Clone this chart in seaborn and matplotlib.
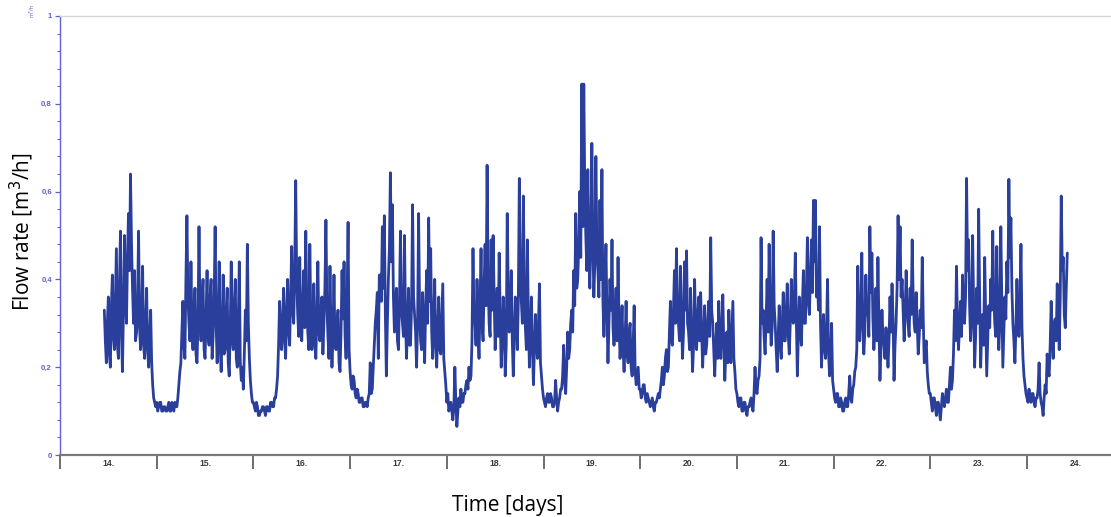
import numpy as np
import pandas as pd
import matplotlib
matplotlib.use("Agg")
import matplotlib.pyplot as plt
import seaborn as sns
from matplotlib.ticker import MultipleLocator, FixedLocator

# ---- data: flow rate [m3/h], 15-minute samples ----
# each list holds the samples of one day; day 14 starts at 11:00 (sample 44)
day14_first_sample = 44
day14 = [0.33, 0.26, 0.21, 0.30, 0.36, 0.23, 0.20, 0.34, 0.41, 0.27, 0.24, 0.35, 0.47, 0.25,
         0.22, 0.38, 0.51, 0.28, 0.19, 0.33, 0.50, 0.36, 0.30, 0.45, 0.55, 0.42, 0.64, 0.48,
         0.38, 0.30, 0.42, 0.26, 0.28, 0.34, 0.51, 0.29, 0.24, 0.31, 0.43, 0.25, 0.22, 0.30,
         0.38, 0.24, 0.20, 0.27, 0.33, 0.21, 0.16, 0.13, 0.12, 0.11]
day15 = [0.12, 0.10, 0.11, 0.12, 0.12, 0.10, 0.10, 0.11, 0.11, 0.10, 0.10, 0.11,
         0.12, 0.10, 0.10, 0.12, 0.11, 0.10, 0.12, 0.11, 0.11, 0.13, 0.16, 0.19,
         0.21, 0.28, 0.35, 0.25, 0.22, 0.40, 0.545, 0.36, 0.30, 0.26, 0.44, 0.29,
         0.24, 0.33, 0.38, 0.23, 0.21, 0.30, 0.52, 0.31, 0.26, 0.35, 0.40, 0.24,
         0.22, 0.31, 0.42, 0.27, 0.25, 0.36, 0.40, 0.22, 0.27, 0.35, 0.52, 0.30,
         0.21, 0.28, 0.44, 0.25, 0.19, 0.30, 0.41, 0.23, 0.24, 0.33, 0.38, 0.21,
         0.18, 0.29, 0.44, 0.26, 0.24, 0.34, 0.40, 0.22, 0.20, 0.31, 0.44, 0.21,
         0.17, 0.20, 0.15, 0.23, 0.33, 0.26, 0.48, 0.30, 0.22, 0.17, 0.14, 0.12]
day16 = [0.12, 0.11, 0.10, 0.12, 0.11, 0.09, 0.09, 0.10, 0.10, 0.11, 0.11, 0.10,
         0.09, 0.11, 0.11, 0.10, 0.10, 0.12, 0.12, 0.11, 0.11, 0.13, 0.13, 0.15,
         0.18, 0.25, 0.35, 0.27, 0.24, 0.31, 0.38, 0.26, 0.22, 0.33, 0.40, 0.28,
         0.25, 0.36, 0.475, 0.33, 0.30, 0.42, 0.625, 0.40, 0.32, 0.27, 0.45, 0.30,
         0.26, 0.34, 0.42, 0.29, 0.51, 0.35, 0.28, 0.24, 0.48, 0.31, 0.24, 0.29,
         0.39, 0.25, 0.22, 0.32, 0.44, 0.28, 0.26, 0.33, 0.36, 0.23, 0.30, 0.38,
         0.535, 0.34, 0.27, 0.22, 0.43, 0.29, 0.20, 0.27, 0.41, 0.25, 0.24, 0.30,
         0.33, 0.21, 0.19, 0.28, 0.42, 0.31, 0.44, 0.27, 0.22, 0.35, 0.53, 0.24]
day17 = [0.19, 0.16, 0.15, 0.18, 0.17, 0.14, 0.13, 0.15, 0.14, 0.12, 0.12, 0.13,
         0.13, 0.11, 0.11, 0.12, 0.12, 0.11, 0.13, 0.14, 0.21, 0.14, 0.15, 0.20,
         0.25, 0.30, 0.33, 0.37, 0.22, 0.41, 0.41, 0.35, 0.52, 0.38, 0.545, 0.32,
         0.18, 0.30, 0.40, 0.47, 0.643, 0.44, 0.57, 0.36, 0.28, 0.34, 0.38, 0.26,
         0.24, 0.35, 0.51, 0.33, 0.30, 0.27, 0.50, 0.31, 0.22, 0.29, 0.38, 0.25,
         0.25, 0.34, 0.57, 0.36, 0.32, 0.28, 0.20, 0.30, 0.55, 0.33, 0.26, 0.24,
         0.37, 0.29, 0.21, 0.33, 0.42, 0.30, 0.54, 0.35, 0.47, 0.28, 0.22, 0.31,
         0.40, 0.25, 0.20, 0.29, 0.36, 0.24, 0.23, 0.31, 0.39, 0.22, 0.19, 0.16]
day18 = [0.12, 0.14, 0.10, 0.11, 0.12, 0.10, 0.08, 0.11, 0.20, 0.12, 0.065, 0.10,
         0.13, 0.11, 0.15, 0.12, 0.12, 0.14, 0.14, 0.16, 0.17, 0.15, 0.20, 0.17,
         0.18, 0.26, 0.47, 0.32, 0.30, 0.25, 0.40, 0.28, 0.22, 0.34, 0.47, 0.30,
         0.26, 0.38, 0.48, 0.34, 0.66, 0.40, 0.30, 0.27, 0.49, 0.33, 0.50, 0.36,
         0.24, 0.30, 0.38, 0.27, 0.46, 0.32, 0.20, 0.26, 0.36, 0.30, 0.18, 0.25,
         0.55, 0.37, 0.28, 0.33, 0.42, 0.26, 0.18, 0.27, 0.36, 0.31, 0.24, 0.35,
         0.63, 0.41, 0.35, 0.30, 0.59, 0.38, 0.29, 0.24, 0.49, 0.31, 0.20, 0.27,
         0.36, 0.25, 0.16, 0.24, 0.32, 0.26, 0.22, 0.30, 0.39, 0.21, 0.18, 0.15]
day19 = [0.13, 0.12, 0.11, 0.13, 0.14, 0.12, 0.12, 0.14, 0.13, 0.11, 0.11, 0.12,
         0.17, 0.13, 0.10, 0.12, 0.13, 0.15, 0.15, 0.18, 0.25, 0.17, 0.14, 0.20,
         0.28, 0.22, 0.24, 0.30, 0.33, 0.28, 0.42, 0.34, 0.55, 0.38, 0.40, 0.48,
         0.60, 0.45, 0.845, 0.52, 0.845, 0.60, 0.50, 0.42, 0.65, 0.46, 0.38, 0.50,
         0.71, 0.48, 0.36, 0.44, 0.68, 0.47, 0.42, 0.36, 0.58, 0.40, 0.65, 0.35,
         0.27, 0.38, 0.48, 0.32, 0.21, 0.30, 0.40, 0.33, 0.49, 0.29, 0.25, 0.31,
         0.38, 0.26, 0.45, 0.30, 0.22, 0.27, 0.34, 0.24, 0.19, 0.26, 0.35, 0.23,
         0.21, 0.28, 0.30, 0.20, 0.18, 0.25, 0.34, 0.19, 0.16, 0.18, 0.20, 0.15]
day20 = [0.15, 0.13, 0.14, 0.16, 0.16, 0.13, 0.12, 0.14, 0.13, 0.12, 0.11, 0.12,
         0.13, 0.11, 0.10, 0.12, 0.12, 0.13, 0.14, 0.13, 0.15, 0.17, 0.20, 0.16,
         0.18, 0.22, 0.24, 0.19, 0.20, 0.28, 0.35, 0.26, 0.25, 0.33, 0.42, 0.30,
         0.47, 0.34, 0.30, 0.26, 0.43, 0.31, 0.22, 0.28, 0.44, 0.33, 0.465, 0.30,
         0.28, 0.24, 0.38, 0.27, 0.19, 0.25, 0.40, 0.29, 0.24, 0.31, 0.36, 0.26,
         0.37, 0.28, 0.20, 0.26, 0.34, 0.23, 0.25, 0.30, 0.35, 0.27, 0.495, 0.33,
         0.30, 0.24, 0.18, 0.25, 0.30, 0.22, 0.35, 0.27, 0.22, 0.29, 0.365, 0.25,
         0.17, 0.23, 0.28, 0.21, 0.33, 0.26, 0.21, 0.28, 0.35, 0.22, 0.19, 0.15]
day21 = [0.14, 0.12, 0.11, 0.13, 0.13, 0.10, 0.10, 0.12, 0.12, 0.10, 0.09, 0.11,
         0.11, 0.12, 0.13, 0.11, 0.10, 0.14, 0.20, 0.15, 0.14, 0.17, 0.18, 0.22,
         0.495, 0.30, 0.33, 0.27, 0.23, 0.31, 0.40, 0.28, 0.48, 0.33, 0.25, 0.29,
         0.51, 0.34, 0.30, 0.24, 0.19, 0.27, 0.34, 0.25, 0.22, 0.30, 0.37, 0.26,
         0.26, 0.33, 0.39, 0.27, 0.23, 0.30, 0.40, 0.32, 0.30, 0.36, 0.46, 0.31,
         0.18, 0.27, 0.36, 0.29, 0.25, 0.34, 0.42, 0.30, 0.30, 0.38, 0.495, 0.35,
         0.32, 0.41, 0.49, 0.37, 0.58, 0.44, 0.58, 0.36, 0.40, 0.33, 0.52, 0.30,
         0.20, 0.27, 0.32, 0.24, 0.22, 0.29, 0.40, 0.23, 0.18, 0.21, 0.30, 0.17]
day22 = [0.15, 0.13, 0.12, 0.14, 0.14, 0.11, 0.11, 0.13, 0.12, 0.10, 0.10, 0.12,
         0.13, 0.11, 0.11, 0.14, 0.18, 0.13, 0.12, 0.15, 0.16, 0.19, 0.20, 0.24,
         0.43, 0.29, 0.26, 0.33, 0.46, 0.30, 0.23, 0.28, 0.41, 0.32, 0.33, 0.27,
         0.52, 0.37, 0.46, 0.31, 0.24, 0.29, 0.38, 0.26, 0.45, 0.30, 0.17, 0.24,
         0.33, 0.27, 0.25, 0.22, 0.29, 0.25, 0.20, 0.26, 0.36, 0.28, 0.39, 0.31,
         0.17, 0.25, 0.30, 0.38, 0.545, 0.40, 0.52, 0.36, 0.40, 0.33, 0.26, 0.31,
         0.42, 0.35, 0.30, 0.27, 0.38, 0.32, 0.49, 0.36, 0.30, 0.28, 0.37, 0.30,
         0.23, 0.27, 0.33, 0.29, 0.45, 0.31, 0.21, 0.24, 0.26, 0.19, 0.16, 0.14]
day23 = [0.14, 0.12, 0.10, 0.13, 0.13, 0.11, 0.09, 0.12, 0.12, 0.10, 0.08, 0.11,
         0.14, 0.12, 0.11, 0.13, 0.15, 0.12, 0.12, 0.16, 0.20, 0.15, 0.17, 0.23,
         0.33, 0.26, 0.43, 0.30, 0.24, 0.29, 0.35, 0.27, 0.41, 0.33, 0.30, 0.36,
         0.63, 0.42, 0.49, 0.34, 0.26, 0.31, 0.50, 0.35, 0.20, 0.27, 0.38, 0.30,
         0.56, 0.36, 0.20, 0.28, 0.32, 0.25, 0.45, 0.31, 0.18, 0.26, 0.34, 0.29,
         0.40, 0.33, 0.51, 0.36, 0.30, 0.27, 0.475, 0.32, 0.24, 0.30, 0.52, 0.35,
         0.20, 0.28, 0.36, 0.31, 0.44, 0.37, 0.628, 0.45, 0.54, 0.38, 0.30, 0.26,
         0.21, 0.29, 0.40, 0.31, 0.27, 0.34, 0.48, 0.29, 0.22, 0.18, 0.16, 0.14]
day24 = [0.13, 0.12, 0.15, 0.13, 0.12, 0.14, 0.14, 0.12, 0.11, 0.13, 0.13, 0.15,
         0.21, 0.14, 0.12, 0.11, 0.09, 0.13, 0.16, 0.14, 0.23, 0.19, 0.18, 0.25,
         0.35, 0.27, 0.22, 0.30, 0.31, 0.26, 0.39, 0.33, 0.24, 0.36, 0.59, 0.42,
         0.45, 0.32, 0.29, 0.38, 0.46]

day_series = {14: day14, 15: day15, 16: day16, 17: day17, 18: day18, 19: day19,
              20: day20, 21: day21, 22: day22, 23: day23, 24: day24}
samples_per_day = 96

day_labels = [f"{d}." for d in range(14, 25)]
ytick_vals = [0, 0.2, 0.4, 0.6, 0.8, 1.0]
ytick_labels = ["0", "0,2", "0,4", "0,6", "0,8", "1"]

# build the time table (time in days of the month)
rows_t, rows_v = [], []
for d, vals in day_series.items():
    first = day14_first_sample if d == 14 else 0
    for k, v in enumerate(vals):
        rows_t.append(d + (first + k) / samples_per_day)
        rows_v.append(v)
df = pd.DataFrame({"day": rows_t, "flow": rows_v})

# ---- styling ----
sns.set_theme(style="white")
plt.rcParams["font.family"] = ["Open Sans", "DejaVu Sans"]

W, H = 1111, 517
fig = plt.figure(figsize=(W / 100, H / 100), dpi=100)
ax = fig.add_axes([60 / W, 62 / H, 1051 / W, 439 / H])

line_col = "#2a3e9c"
axis_blue = "#6262cc"

sns.lineplot(data=df, x="day", y="flow", ax=ax, color=line_col,
             linewidth=2.0, estimator=None, sort=False)

ax.set_xlim(14, 14 + 1051 / 96.7)
ax.set_ylim(0, 1)

# y axis
ax.yaxis.set_major_locator(FixedLocator(ytick_vals))
ax.set_yticklabels(ytick_labels)
ax.yaxis.set_minor_locator(MultipleLocator(0.04))
ax.tick_params(axis="y", which="major", direction="out", length=3.6, width=0.9,
               color=axis_blue, labelcolor=axis_blue, labelsize=5.6, pad=2.2, left=True)
ax.tick_params(axis="y", which="minor", direction="out", length=2.5, width=0.8,
               color=axis_blue, left=True)
for lab in ax.get_yticklabels():
    lab.set_fontweight("bold")
    lab.set_family(["Liberation Sans", "DejaVu Sans"])

# x axis: day boundaries as ticks, labels centred in each day
days = np.arange(14, 25)
ax.xaxis.set_major_locator(FixedLocator(days))
ax.xaxis.set_major_formatter(plt.NullFormatter())
ax.xaxis.set_minor_locator(FixedLocator(days + 0.5))
ax.set_xticklabels(day_labels, minor=True)
ax.tick_params(axis="x", which="major", direction="out", length=10, width=1.2,
               color="#555555", bottom=True)
ax.tick_params(axis="x", which="minor", length=0, labelsize=6.2,
               labelcolor="#3a3a3a", pad=3)
for lab in ax.get_xticklabels(minor=True):
    lab.set_fontweight("bold")
    lab.set_family(["Liberation Sans", "DejaVu Sans"])

ax.spines["right"].set_visible(False)
ax.spines["top"].set_color("#d4d4d4")
ax.spines["top"].set_linewidth(1.0)
ax.spines["left"].set_color(axis_blue)
ax.spines["left"].set_linewidth(1.0)
ax.spines["bottom"].set_color("#7a7a7a")
ax.spines["bottom"].set_linewidth(1.6)
ax.grid(False)

ax.set_xlabel("")
ax.set_ylabel("")
fig.text(22 / W, 1 - 232 / H, "Flow rate [m$^3$/h]", rotation=90,
         ha="center", va="center", fontsize=15, color="black")
fig.text(508 / W, 1 - 505 / H, "Time [days]", ha="center", va="center",
         fontsize=15, color="black")
fig.text(32 / W, 1 - 4 / H, "m³/h", rotation=90, ha="center", va="top",
         fontsize=4.2, color=axis_blue)

fig.savefig("out.png", dpi=100)
